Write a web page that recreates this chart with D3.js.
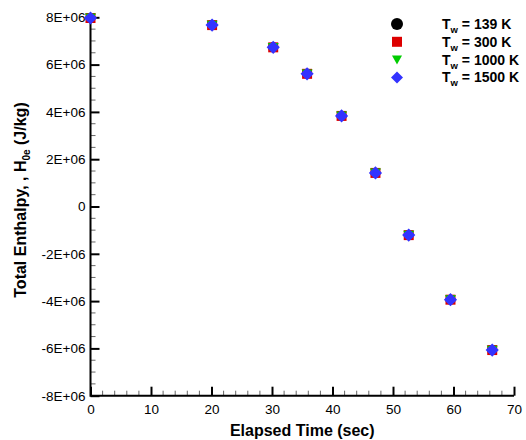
<!DOCTYPE html>
<html><head><meta charset="utf-8">
<script src="https://cdn.jsdelivr.net/npm/d3@7"></script>
<style>body{margin:0;background:#fff}svg{display:block;font-family:"Liberation Sans",Arial,sans-serif}</style>
</head><body><svg id="c" width="526" height="440"></svg>
<script>
const times = [0, 20.1, 30.2, 35.8, 41.5, 47.1, 52.6, 59.5, 66.4];
const enthalpy = [7.97e6, 7.67e6, 6.73e6, 5.61e6, 3.83e6, 1.42e6, -1.21e6, -3.94e6, -6.07e6];
const seriesNames = ["139 K", "300 K", "1000 K", "1500 K"];
const seriesColors = ["#000000", "#dd0000", "#00cc00", "#3333ff"];
const seriesSymbols = ["circle", "square", "triangleDown", "diamond"];
const xTicks = [0, 10, 20, 30, 40, 50, 60, 70];
const yTicks = [-8e6, -6e6, -4e6, -2e6, 0, 2e6, 4e6, 6e6, 8e6];
const yTickLabels = ["-8E+06", "-6E+06", "-4E+06", "-2E+06", "0", "2E+06", "4E+06", "6E+06", "8E+06"];

const svg = d3.select("#c");
const L = 90.5, R = 514, T = 17.3, B = 395.7;
const x = d3.scaleLinear().domain([0, 70]).range([L, R]);
const y = d3.scaleLinear().domain([-8e6, 8e6]).range([B, T]);

// minor ticks
const xMinor = d3.range(0, 70.001, 2).filter(v => v % 10 !== 0);
const yMinor = d3.range(-8e6, 8e6 + 1, 5e5).filter(v => Math.abs(v % 2e6) > 1);
svg.append("g").selectAll("line").data(xMinor).join("line")
  .attr("x1", d => x(d)).attr("x2", d => x(d)).attr("y1", B).attr("y2", B - 5)
  .attr("stroke", "#666").attr("stroke-width", 1);
svg.append("g").selectAll("line").data(yMinor).join("line")
  .attr("y1", d => y(d)).attr("y2", d => y(d)).attr("x1", L).attr("x2", L + 5)
  .attr("stroke", "#666").attr("stroke-width", 1);

// axes
const xAxis = svg.append("g").attr("transform", `translate(0,${B})`)
  .call(d3.axisBottom(x).tickValues(xTicks).tickSize(0).tickPadding(9).tickFormat(d3.format("d")));
xAxis.select(".domain").remove();
xAxis.selectAll(".tick").append("line").attr("y1", 0).attr("y2", -9).attr("stroke", "#000").attr("stroke-width", 2);
xAxis.selectAll("text").attr("font-size", 13.5).attr("fill", "#000").attr("font-family", "Liberation Sans, Arial, sans-serif");

const yAxis = svg.append("g").attr("transform", `translate(${L},0)`)
  .call(d3.axisLeft(y).tickValues(yTicks).tickSize(0).tickPadding(5).tickFormat((d, i) => yTickLabels[i]));
yAxis.select(".domain").remove();
yAxis.selectAll(".tick").append("line").attr("x1", 0).attr("x2", 9).attr("stroke", "#000").attr("stroke-width", 2);
yAxis.selectAll("text").attr("font-size", 13.5).attr("fill", "#000").attr("font-family", "Liberation Sans, Arial, sans-serif");

svg.append("path").attr("d", `M${L},${T - 1}V${B}H${R}`).attr("fill", "none").attr("stroke", "#000").attr("stroke-width", 2);

// symbols
function symPath(kind, s) {
  if (kind === "circle") return d3.symbol(d3.symbolCircle, s * s * Math.PI / 4)();
  if (kind === "square") return `M${-s/2},${-s/2}h${s}v${s}h${-s}Z`;
  if (kind === "triangleDown") return `M${-s/2},${-s*0.4}L${s/2},${-s*0.4}L0,${s*0.5}Z`;
  return `M0,${-s*0.6}L${s*0.6},0L0,${s*0.6}L${-s*0.6},0Z`;
}
const sizes = [10, 10, 11, 11];
seriesNames.forEach((n, si) => {
  svg.append("g").selectAll("path").data(times.map((t, i) => [t, enthalpy[i]])).join("path")
    .attr("transform", d => `translate(${x(d[0])},${y(d[1])})`)
    .attr("d", symPath(seriesSymbols[si], sizes[si]))
    .attr("fill", seriesColors[si]);
});

// legend
const lg = svg.append("g");
seriesNames.forEach((n, i) => {
  const yy = 24 + i * 17.8;
  lg.append("path").attr("transform", `translate(397,${yy})`)
    .attr("d", symPath(seriesSymbols[i], i === 0 ? 12 : 10)).attr("fill", seriesColors[i]);
  const t = lg.append("text").attr("x", 442).attr("y", yy + 5).attr("font-size", 14).attr("font-weight", "bold");
  t.append("tspan").text("T");
  t.append("tspan").attr("font-size", 9.5).attr("dy", 4).text("w");
  t.append("tspan").attr("dy", -4).text(" = " + n);
});

// axis titles
svg.append("text").attr("x", (L + R) / 2).attr("y", 436).attr("text-anchor", "middle")
  .attr("font-size", 16).attr("font-weight", "bold").text("Elapsed Time (sec)");
const yt = svg.append("text").attr("transform", `translate(26,200) rotate(-90)`)
  .attr("text-anchor", "middle").attr("font-size", 16).attr("font-weight", "bold");
yt.append("tspan").text("Total Enthalpy, , H");
yt.append("tspan").attr("font-size", 10).attr("dy", 4).text("0e");
yt.append("tspan").attr("dy", -4).text(" (J/kg)");
</script></body></html>
